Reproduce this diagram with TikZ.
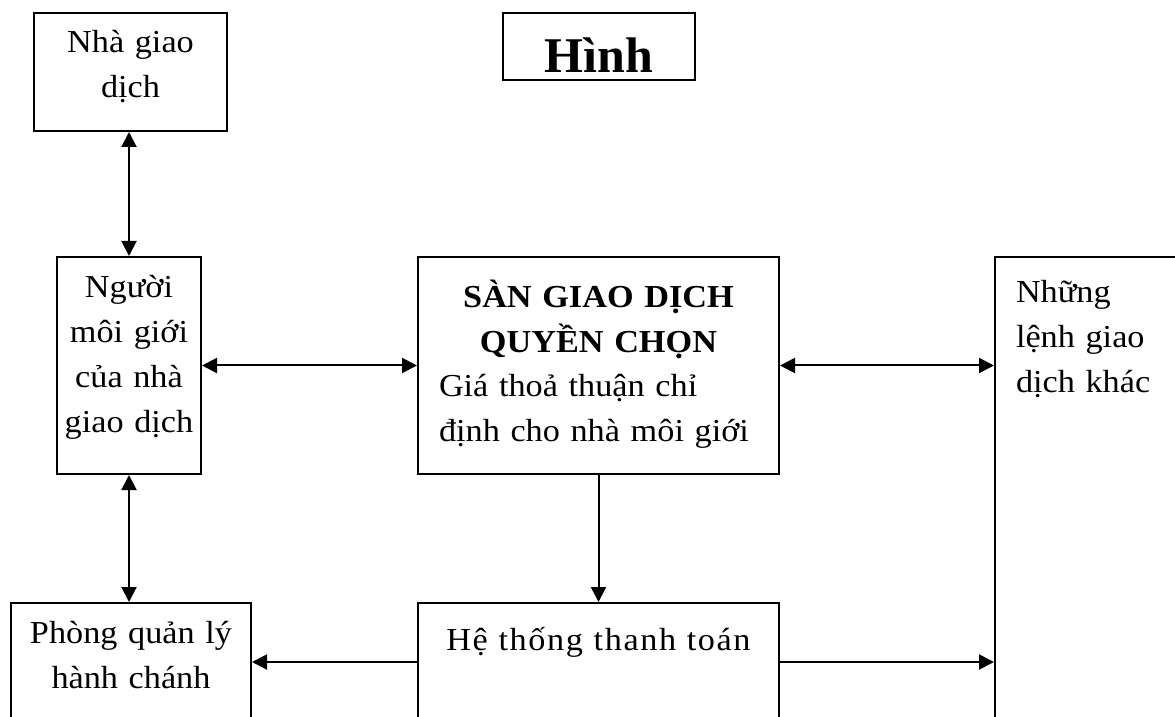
\documentclass[tikz,border=0pt]{standalone}
\usepackage{fontspec}
\setmainfont{Liberation Serif}
\newfontfamily\boxfont[FakeStretch=1.07]{Liberation Serif}
\usetikzlibrary{arrows.meta}
\begin{document}
\begin{tikzpicture}[x=0.5pt,y=-0.5pt,
  box/.style={draw=black,line width=1pt,inner ysep=0pt,anchor=base,font=\fontsize{16pt}{22.5pt}\boxfont},
  link/.style={line width=1pt,{Triangle[length=7.5pt,width=7.5pt]}-{Triangle[length=7.5pt,width=7.5pt]}},
  flow/.style={line width=1pt,-{Triangle[length=7.5pt,width=7.5pt]}}]
\useasboundingbox (0,0) rectangle (1175,717);
\clip (0,0) rectangle (1175,717);
\node (trader) at (130.5,53) [box][inner xsep=0pt,text width=96.5pt,align=center,text height=20pt,text depth=39pt]{Nhà giao\\dịch};
\node (title) at (599,73) [box][inner xsep=0pt,text width=96pt,align=center,text height=30pt,text depth=3.5pt,font=\fontsize{25pt}{30pt}\rmfamily\bfseries]{Hình};
\node (broker) at (129,298) [box][inner xsep=0pt,text width=72pt,align=center,text height=20.5pt,text depth=88pt]{Người\\môi giới\\của nhà\\giao dịch};
\node (exchange) at (598.5,307) [box][inner xsep=10.5pt,text width=159.5pt,align=left,text height=25pt,text depth=83.5pt]{{\centering\bfseries SÀN GIAO DỊCH\\QUYỀN CHỌN\par}Giá thoả thuận chỉ\\định cho nhà môi giới};
\node (others) at (1097.5,303) [box][inner xsep=10.5pt,text width=81.5pt,align=left,text height=23pt,text depth=209pt]{Những\\lệnh giao\\dịch khác};
\node (office) at (131,643) [box][inner xsep=0pt,text width=120pt,align=center,text height=20pt,text depth=39pt]{Phòng quản lý\\hành chánh};
\node (clearing) at (598.5,650) [box][inner xsep=0pt,text width=180.5pt,align=center,text height=23.5pt,text depth=35.5pt]{\addfontfeature{LetterSpace=5}Hệ thống thanh toán};
\draw[link] (broker.north |- trader.south) -- (broker.north);
\draw[link] (broker.east) -- (exchange.west);
\draw[link] (exchange.east) -- (exchange.east -| others.west);
\draw[flow] (exchange.south) -- (clearing.north);
\draw[link] (broker.south) -- (broker.south |- office.north);
\draw[flow] (clearing.west) -- (office.east);
\draw[flow] (clearing.east) -- (clearing.east -| others.west);
\end{tikzpicture}
\end{document}
